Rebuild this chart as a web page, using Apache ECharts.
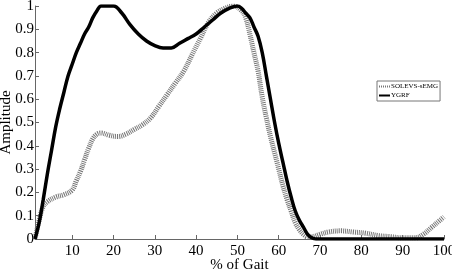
<!DOCTYPE html>
<html><head><meta charset="utf-8">
<script src="https://cdn.jsdelivr.net/npm/echarts@6/dist/echarts.min.js"></script>
<style>html,body{margin:0;padding:0;background:#fff}#c{width:452px;height:274px}</style>
</head><body><div id="c"></div>
<script>
// % of gait positions and amplitudes
const ygrfX = [1,2,3,4,5,6,7,8,9,10,11,12,13,14,15,16,17,18,20,22,24,26,28,30,32,34,36,38,40,42,44,46,48,50,51,52,53,54,55,56,57,58,59,60,61,62,63,64,65,66,67,68,69,80,90,100];
const ygrfY = [0,0.07,0.17,0.28,0.38,0.48,0.56,0.63,0.70,0.75,0.80,0.84,0.88,0.91,0.95,0.98,1.0,1.0,1.0,0.97,0.92,0.88,0.85,0.83,0.82,0.82,0.84,0.86,0.88,0.91,0.94,0.97,0.99,1.0,0.99,0.97,0.95,0.91,0.87,0.80,0.70,0.60,0.50,0.41,0.33,0.25,0.18,0.12,0.08,0.05,0.02,0.005,0,0,0,0];
const semgX = [1,2,3,4,6,8,10,11,12,13,14,15,16,17,19,21,23,25,27,29,31,33,35,37,39,41,43,45,47,49,51,52,53,54,55,56,57,58,59,60,61,62,63,64,65,66,67,68,70,72,75,78,81,84,87,90,93,95,97,99,100];
const semgY = [0,0.08,0.14,0.16,0.18,0.19,0.21,0.25,0.29,0.34,0.39,0.43,0.45,0.455,0.445,0.44,0.45,0.47,0.49,0.52,0.57,0.62,0.67,0.72,0.79,0.86,0.93,0.97,0.99,1.0,0.98,0.95,0.88,0.80,0.72,0.61,0.52,0.44,0.37,0.30,0.23,0.17,0.12,0.07,0.04,0.02,0.01,0.01,0.02,0.03,0.035,0.03,0.025,0.015,0.01,0.005,0.005,0.02,0.05,0.08,0.095];
const xTicks = [10,20,30,40,50,60,70,80,90,100];
const names = ['SOLEVS-sEMG','YGRF'];

const pairs = (xs, ys) => xs.map((x, i) => [x, ys[i]]);
const font = 'Liberation Serif, Times New Roman, serif';
const chart = echarts.init(document.getElementById('c'), null, {renderer: 'canvas'});
chart.setOption({
  animation: false,
  backgroundColor: '#fff',
  grid: {left: 35, right: 8, top: 6, bottom: 35, containLabel: false, outerBoundsMode: 'none'},
  legend: {
    left: 377, top: 81, orient: 'vertical',
    padding: [2, 2, 2, 1], itemGap: 2,
    itemWidth: 11, itemHeight: 6,
    borderColor: '#777', borderWidth: 1,
    itemStyle: {opacity: 0},
    textStyle: {fontFamily: font, fontSize: 7, color: '#000', padding: [0,0,0,-4]},
    data: names
  },
  xAxis: {
    type: 'value', min: 1, max: 100,
    name: '% of Gait', nameLocation: 'middle', nameGap: 19, nameMoveOverlap: false,
    nameTextStyle: {fontFamily: font, fontSize: 15, color: '#000'},
    axisLine: {lineStyle: {color: '#666', width: 1}},
    axisTick: {inside: true, length: 4, customValues: xTicks, lineStyle: {color: '#666'}},
    axisLabel: {customValues: xTicks, fontFamily: font, fontSize: 15, color: '#000', margin: 5},
    splitLine: {show: false}
  },
  yAxis: {
    type: 'value', min: 0, max: 1, interval: 0.1,
    name: 'Amplitude', nameLocation: 'middle', nameGap: 21, nameMoveOverlap: false,
    nameTextStyle: {fontFamily: font, fontSize: 15, color: '#000'},
    axisLine: {show: true, lineStyle: {color: '#666', width: 1}},
    axisTick: {show: true, inside: true, length: 4, lineStyle: {color: '#666'}},
    axisLabel: {fontFamily: font, fontSize: 15, color: '#000', margin: 1,
      formatter: v => String(Math.round(v * 10) / 10)},
    splitLine: {show: false}
  },
  series: [
    {name: names[0], type: 'line', smooth: 0.4, symbol: 'none', data: pairs(semgX, semgY),
     lineStyle: {color: '#777', width: 5, type: [1, 1]}, itemStyle: {color: '#777'}, z: 2},
    {name: names[1], type: 'line', smooth: 0.4, symbol: 'none', data: pairs(ygrfX, ygrfY),
     lineStyle: {color: '#000', width: 3.5}, itemStyle: {color: '#000'}, z: 3}
  ]
});
</script></body></html>
